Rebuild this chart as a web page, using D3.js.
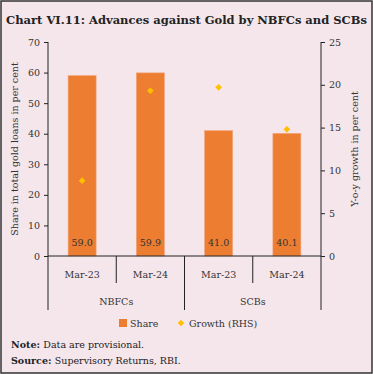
<!DOCTYPE html>
<html>
<head>
<meta charset="utf-8">
<script src="https://cdn.jsdelivr.net/npm/d3@7"></script>
<style>
  body { margin: 0; background: #fff; }
  svg { display: block; font-family: "DejaVu Serif", serif; }
</style>
</head>
<body>
<svg id="chart" width="373" height="374"></svg>
<script>
var groups = ["NBFCs", "SCBs"];
var periods = ["Mar-23", "Mar-24"];
var categories = ["NBFCs|Mar-23", "NBFCs|Mar-24", "SCBs|Mar-23", "SCBs|Mar-24"];
var share = [59.0, 59.9, 41.0, 40.1];
var growth = [8.8, 19.3, 19.7, 14.8];
var leftTicks = [0, 10, 20, 30, 40, 50, 60, 70];
var rightTicks = [0, 5, 10, 15, 20, 25];

var svg = d3.select("#chart");
var W = 373, H = 374;
var x0 = 48, x1 = 321, yTop = 42, yBase = 256;

svg.append("rect")
  .attr("x", 1).attr("y", 1)
  .attr("width", W - 2).attr("height", H - 2)
  .attr("fill", "#f5e6ec")
  .attr("stroke", "#333")
  .attr("stroke-width", 1.5);

svg.append("text")
  .attr("x", W / 2).attr("y", 24)
  .attr("text-anchor", "middle")
  .attr("font-size", 11.5)
  .attr("font-weight", "bold")
  .attr("fill", "#222")
  .text("Chart VI.11: Advances against Gold by NBFCs and SCBs");

var x = d3.scaleBand()
  .domain(categories)
  .range([x0, x1])
  .paddingInner(0.59)
  .paddingOuter(0.295);

var yL = d3.scaleLinear().domain([0, 70]).range([yBase, yTop]);
var yR = d3.scaleLinear().domain([0, 25]).range([yBase, yTop]);
var step = (x1 - x0) / categories.length;

// bars
svg.append("g").selectAll("rect")
  .data(share)
  .enter().append("rect")
  .attr("x", function (d, i) { return x(categories[i]); })
  .attr("y", function (d) { return yL(d); })
  .attr("width", x.bandwidth())
  .attr("height", function (d) { return yL(0) - yL(d); })
  .attr("fill", "#ed7d31")
  .attr("stroke", "#f2a37a")
  .attr("stroke-width", 0.6);

// bar labels
svg.append("g").selectAll("text")
  .data(share)
  .enter().append("text")
  .attr("x", function (d, i) { return x(categories[i]) + x.bandwidth() / 2; })
  .attr("y", 246)
  .attr("text-anchor", "middle")
  .attr("font-size", 9.5)
  .attr("fill", "#333")
  .text(function (d) { return d.toFixed(1); });

// growth diamonds (squares turned 45 degrees)
var diamond = d3.symbol().type(d3.symbolSquare).size(22);
svg.append("g").selectAll("path")
  .data(growth)
  .enter().append("path")
  .attr("d", diamond)
  .attr("transform", function (d, i) {
    return "translate(" + (x(categories[i]) + x.bandwidth() / 2) + "," + yR(d) + ") rotate(45)";
  })
  .attr("fill", "#ffc000");

// axes
var axL = svg.append("g")
  .attr("transform", "translate(" + x0 + ",0)")
  .call(d3.axisLeft(yL).tickValues(leftTicks).tickSize(4).tickPadding(4));
var axR = svg.append("g")
  .attr("transform", "translate(" + x1 + ",0)")
  .call(d3.axisRight(yR).tickValues(rightTicks).tickSize(4).tickPadding(4));
[axL, axR].forEach(function (ax) {
  ax.select(".domain").attr("stroke", "#222").attr("d", "M0," + yTop + "V" + yBase);
  ax.selectAll(".tick line").attr("stroke", "#222");
  ax.selectAll(".tick text")
    .attr("font-family", "DejaVu Serif, serif")
    .attr("font-size", 9.5)
    .attr("fill", "#333");
});

// baseline and category separators
svg.append("line")
  .attr("x1", x0).attr("x2", x1)
  .attr("y1", yBase).attr("y2", yBase)
  .attr("stroke", "#222");

var seps = d3.range(categories.length + 1);
svg.append("g").selectAll("line")
  .data(seps)
  .enter().append("line")
  .attr("x1", function (i) { return x0 + i * step; })
  .attr("x2", function (i) { return x0 + i * step; })
  .attr("y1", yBase)
  .attr("y2", function (i) { return i % 2 === 0 ? 310 : 283; })
  .attr("stroke", "#222");

svg.append("g").selectAll("text")
  .data(categories)
  .enter().append("text")
  .attr("x", function (d) { return x(d) + x.bandwidth() / 2; })
  .attr("y", 278)
  .attr("text-anchor", "middle")
  .attr("font-size", 9.5)
  .attr("fill", "#333")
  .text(function (d) { return d.split("|")[1]; });

svg.append("g").selectAll("text")
  .data(groups)
  .enter().append("text")
  .attr("x", function (d, i) { return x0 + (i * 2 + 1) * step; })
  .attr("y", 305)
  .attr("text-anchor", "middle")
  .attr("font-size", 9.5)
  .attr("fill", "#333")
  .text(function (d) { return d; });

// axis titles
svg.append("text")
  .attr("transform", "translate(18,149) rotate(-90)")
  .attr("text-anchor", "middle")
  .attr("font-size", 9.5)
  .attr("fill", "#333")
  .text("Share in total gold loans in per cent");
svg.append("text")
  .attr("transform", "translate(358,149) rotate(-90)")
  .attr("text-anchor", "middle")
  .attr("font-size", 9.5)
  .attr("fill", "#333")
  .text("Y-o-y growth in per cent");

// legend
var lg = svg.append("g");
lg.append("rect").attr("x", 119).attr("y", 319).attr("width", 8).attr("height", 8).attr("fill", "#ed7d31");
lg.append("text").attr("x", 130).attr("y", 327).attr("font-size", 9.5).attr("fill", "#333").text("Share");
lg.append("path").attr("d", diamond).attr("transform", "translate(181,323) rotate(45)").attr("fill", "#ffc000");
lg.append("text").attr("x", 189).attr("y", 327).attr("font-size", 9.5).attr("fill", "#333").text("Growth (RHS)");

// notes
var nt = svg.append("text").attr("x", 11).attr("y", 348).attr("font-size", 9.5).attr("fill", "#222");
nt.append("tspan").attr("font-weight", "bold").text("Note: ");
nt.append("tspan").text("Data are provisional.");
var sr = svg.append("text").attr("x", 11).attr("y", 364).attr("font-size", 9.5).attr("fill", "#222");
sr.append("tspan").attr("font-weight", "bold").text("Source: ");
sr.append("tspan").text("Supervisory Returns, RBI.");
</script>
</body>
</html>
